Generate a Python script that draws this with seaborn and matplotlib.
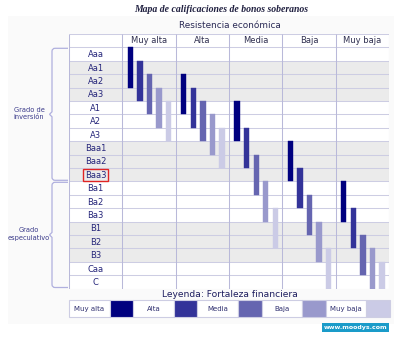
import numpy as np
import pandas as pd
import matplotlib
matplotlib.use("Agg")
import matplotlib.pyplot as plt
import seaborn as sns
from matplotlib.path import Path
from matplotlib.patches import PathPatch, Rectangle

# ---------------- data ----------------
ratings = ["Aaa", "Aa1", "Aa2", "Aa3", "A1", "A2", "A3", "Baa1", "Baa2", "Baa3",
           "Ba1", "Ba2", "Ba3", "B1", "B2", "B3", "Caa", "C"]
shaded_ratings = ["Aa1", "Aa2", "Aa3", "Baa1", "Baa2", "Baa3", "B1", "B2", "B3"]
resistance = ["Muy alta", "Alta", "Media", "Baja", "Muy baja"]      # columns
strength = ["Muy alta", "Alta", "Media", "Baja", "Muy baja"]        # bars / legend
strength_colors = ["#00007f", "#333399", "#6565b0", "#9999cc", "#cbcbe6"]

# highest rating of each range  [resistance][strength]
range_top = [
    ["Aaa", "Aa1", "Aa2", "Aa3", "A1"],
    ["Aa2", "Aa3", "A1", "A2", "A3"],
    ["A1", "A3", "Baa2", "Ba1", "Ba3"],
    ["Baa1", "Baa3", "Ba2", "B1", "B3"],
    ["Ba1", "Ba3", "B2", "B3", "Caa"],
]
# lowest rating of each range  [resistance][strength]
range_bottom = [
    ["Aa2", "Aa3", "A1", "A2", "A3"],
    ["A1", "A2", "A3", "Baa1", "Baa2"],
    ["A3", "Baa2", "Ba1", "Ba3", "B2"],
    ["Baa3", "Ba2", "B1", "B3", "C"],
    ["Ba3", "B2", "Caa", "C", "C"],
]
grade_groups = [("Grado de\ninversión", "Aaa", "Baa3"),
                ("Grado\nespeculativo", "Ba1", "C")]
highlight = "Baa3"

title = "Mapa de calificaciones de bonos soberanos"
col_title = "Resistencia económica"
legend_title = "Leyenda: Fortaleza financiera"
source = "www.moodys.com"

# ---------------- style ----------------
sns.set_theme(style="white")
plt.rcParams["font.family"] = ["DejaVu Sans"]

W, H = 400, 338
fig = plt.figure(figsize=(W / 100, H / 100), dpi=100)
fig.patch.set_facecolor("white")

# overlay in pixel coordinates for decorations
ov = fig.add_axes([0, 0, 1, 1])
ov.set_xlim(0, W)
ov.set_ylim(H, 0)
ov.axis("off")
ov.add_patch(Rectangle((8, 16), 386, 308, fc="#fafafa", ec="none", zorder=0))

line_c = "#cdcde3"
vline_c = "#b9b9d9"
brace_c = "#b0b0de"

# table axes
tx0, tx1, ty0, ty1 = 69, 389, 34, 288.5
ax = fig.add_axes([tx0 / W, 1 - ty1 / H, (tx1 - tx0) / W, (ty1 - ty0) / H])
ax.set_facecolor("white")
nr = len(ratings)
nc = len(resistance)

for r in shaded_ratings:
    i = ratings.index(r)
    ax.axhspan(i, i + 1, xmin=0, xmax=1, color="#ebebeb", lw=0, zorder=0)

ax.hlines(np.arange(-1, nr + 1), -1, nc, color=line_c, lw=0.75, zorder=0.6)
ax.vlines(np.arange(-1, nc + 1), -1, nr, color=vline_c, lw=0.75, zorder=0.6)

offsets = [0.15, 0.33, 0.51, 0.69, 0.87]
for si, s in enumerate(strength):
    tops = [ratings.index(range_top[ci][si]) for ci in range(nc)]
    bots = [ratings.index(range_bottom[ci][si]) + 1 for ci in range(nc)]
    df = pd.DataFrame({
        "pos": [ci + offsets[si] for ci in range(nc)],
        "span": np.array(bots) - np.array(tops),
    })
    sns.barplot(data=df, x="pos", y="span", native_scale=True, width=0.1,
                color=strength_colors[si], saturation=1, errorbar=None,
                bottom=tops, edgecolor=strength_colors[si], linewidth=0.3,
                ax=ax, zorder=2)

ax.set_xlim(-1, nc)
ax.set_ylim(nr, -1)
ax.set_xlabel("")
ax.set_ylabel("")
ax.set_xticks([])
ax.set_yticks([])
for sp in ax.spines.values():
    sp.set_visible(False)

for ci, c in enumerate(resistance):
    ax.text(ci + 0.5, -0.5, c, ha="center", va="center", fontsize=6,
            color="#303050", zorder=3)
for i, r in enumerate(ratings):
    kw = {}
    if r == highlight:
        kw["bbox"] = dict(boxstyle="square,pad=0.18", fc="none", ec="#e02424", lw=1)
    ax.text(-0.5, i + 0.55, r, ha="center", va="center", fontsize=6,
            color="#25257a", zorder=3, **kw)

# braces + group labels
row_h = (ty1 - (ty0 + 13.3)) / nr
body_top = ty0 + 13.3
for label, r0, r1 in grade_groups:
    y0 = body_top + ratings.index(r0) * row_h + 1
    y1 = body_top + (ratings.index(r1) + 1) * row_h - 1
    ym = (y0 + y1) / 2
    xr, xl = 68, 52
    verts = [(xr, y0), (xl + 3, y0), (xl, y0), (xl, y0 + 3),
             (xl, ym - 2.5), (xl - 2.5, ym), (xl, ym + 2.5),
             (xl, y1 - 3), (xl, y1), (xl + 3, y1), (xr, y1)]
    codes = [Path.MOVETO, Path.LINETO, Path.CURVE3, Path.CURVE3,
             Path.LINETO, Path.LINETO, Path.LINETO,
             Path.LINETO, Path.CURVE3, Path.CURVE3, Path.LINETO]
    ov.add_patch(PathPatch(Path(verts, codes), fc="none", ec=brace_c, lw=0.9))
    ov.text(29, ym - 1, label, ha="center", va="center", fontsize=4.8,
            color="#3a3a8a", linespacing=1.3)

# titles
ov.text(221.5, 10, title, ha="center", va="center", fontsize=7,
        family="Liberation Serif", style="italic", weight="bold", color="#202040")
ov.text(229.5, 26, col_title, ha="center", va="center", fontsize=6.4,
        color="#2a2a55")

# legend
ov.text(229.5, 294.5, legend_title, ha="center", va="center", fontsize=6.6,
        color="#1c1c5e")
lx = 69
ly0, ly1 = 300, 317.3
tw, sw = 40.5, 23.7
for si, s in enumerate(strength):
    ov.add_patch(Rectangle((lx, ly0), tw, ly1 - ly0, fc="white", ec=line_c, lw=0.8))
    ov.text(lx + tw / 2, (ly0 + ly1) / 2, s, ha="center", va="center",
            fontsize=5, color="#303070")
    lx += tw
    ov.add_patch(Rectangle((lx, ly0), sw, ly1 - ly0, fc=strength_colors[si],
                           ec=line_c, lw=0.8))
    lx += sw

# source badge
ov.add_patch(Rectangle((321.7, 323.3), 67.6, 9, fc="#1a9bc9", ec="none"))
ov.text(355.5, 327.9, source, ha="center", va="center", fontsize=4.5,
        weight="bold", color="white")

fig.savefig("out.png", dpi=100)
